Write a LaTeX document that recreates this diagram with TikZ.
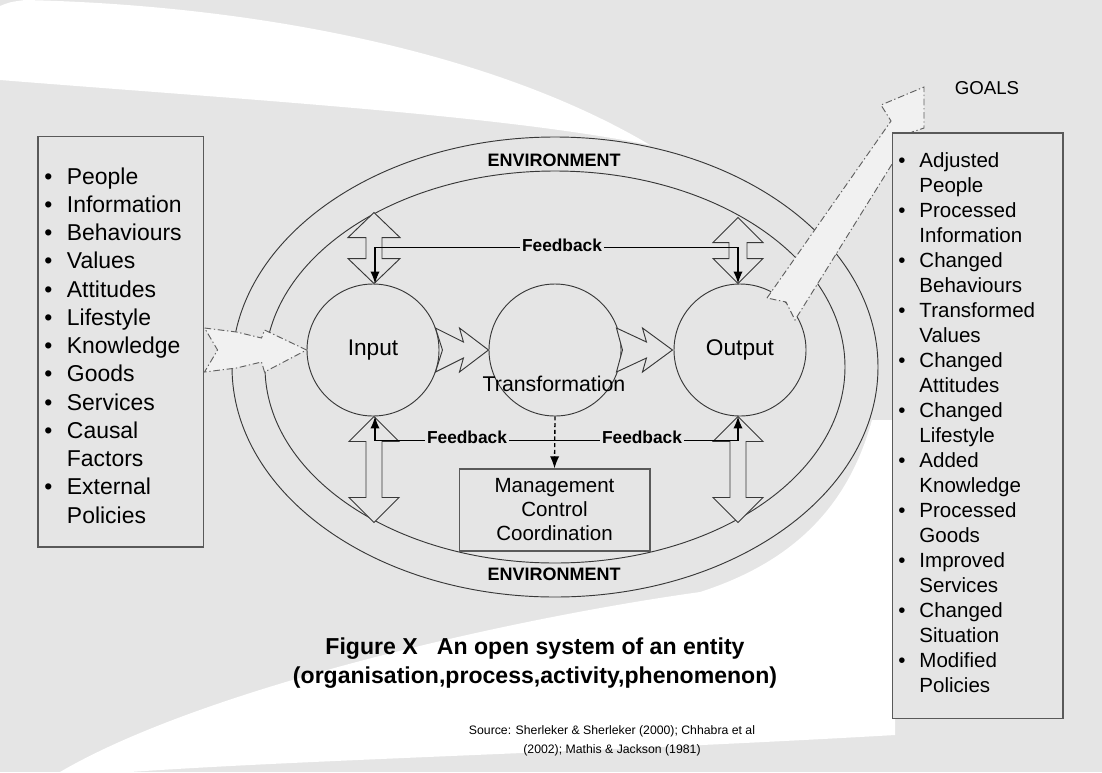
\documentclass[tikz,border=0pt]{standalone}
\usepackage{fontspec}
\setmainfont{Liberation Sans}
\usetikzlibrary{arrows.meta,calc}
\definecolor{bg}{gray}{0.90}
\definecolor{shp}{gray}{0.90}
\definecolor{ln}{gray}{0.22}
\definecolor{bx}{gray}{0.35}
\tikzset{
  >={Latex[length=9pt,width=7pt]},
  circnode/.style={circle,draw=ln,line width=0.7pt,fill=shp,minimum size=99pt,inner sep=0pt},
  listbox/.style={draw=bx,line width=1pt,fill=shp,inner sep=0pt},
  blockarrow/.style={draw=ln,line width=0.7pt,fill=shp,line join=miter},
  dasharrow/.style={draw=ln!80,line width=0.7pt,fill=shp!55!white,dash pattern=on 5pt off 2pt on 1pt off 2pt},
  fbline/.style={draw=black,line width=1pt},
  fblabel/.style={font=\fontsize{13}{15}\selectfont\bfseries,fill=shp,inner sep=1.2pt,anchor=base},
  envlabel/.style={font=\fontsize{13.5}{15}\selectfont\bfseries},
}
\begin{document}
\begin{tikzpicture}[x=0.75pt,y=-0.75pt]
\useasboundingbox (0,0) rectangle (1102,772);
\fill[bg] (0,0) rectangle (1102,772);
% white swooshes of the background
\fill[white] (25,0) .. controls (250,5) and (490,50) .. (650,145)
  .. controls (500,115) and (250,100) .. (0,80) -- (0,6) .. controls (10,2) .. (25,0) -- cycle;
\fill[white] (60,772) .. controls (200,690) and (500,620) .. (700,592)
  .. controls (800,560) and (850,500) .. (872,420) -- (895,420) -- (895,735)
  .. controls (600,752) and (300,760) .. (130,772) -- cycle;

% environment ring
\filldraw[fill=shp,draw=ln,line width=0.7pt] (555,367) ellipse [x radius=323, y radius=230];
\draw[ln,line width=0.7pt] (555,367) ellipse [x radius=290, y radius=196];
\node[envlabel] (envtop) at (554,160) {ENVIRONMENT};
\node[envlabel] (envbot) at (554,574) {ENVIRONMENT};

% circles
\node[circnode] (in) at (373,350) {};
\node[circnode] (tr) at (555,350) {};
\node[circnode] (out) at (740,350) {};
\node[font=\fontsize{17}{20}\selectfont] (intext) at (373,350) {Input};
\node[font=\fontsize{17}{20}\selectfont] (outtext) at (740,350) {Output};
\node[font=\fontsize{16}{19}\selectfont] (trtext) at (554,384) {Transformation};

% chevron arrows between circles
\begin{scope}[shift={(in.east)}]
\draw[blockarrow] (-4,-22) -- (24,-8) -- (20,-22) -- (49,0) -- (20,22) -- (24,8) -- (-4,22) -- (3,0) -- cycle;
\end{scope}
\begin{scope}[shift={(tr.east)}]
\draw[blockarrow] (-5,-22) -- (25,-8) -- (21,-22) -- (51,0) -- (21,22) -- (25,8) -- (-5,22) -- (1,0) -- cycle;
\end{scope}

% vertical double block arrows
\begin{scope}[shift={(in.north)}]
\draw[blockarrow] (1,0) -- (27,-25) -- (9,-25) -- (9,-46) -- (27,-46) -- (1,-71) -- (-25,-46) -- (-7,-46) -- (-7,-25) -- (-25,-25) -- cycle;
\end{scope}
\begin{scope}[shift={(out.north)}]
\draw[blockarrow] (-2,0) -- (23,-25) -- (7,-25) -- (7,-41) -- (23,-41) -- (-2,-66) -- (-27,-41) -- (-11,-41) -- (-11,-25) -- (-27,-25) -- cycle;
\end{scope}
\begin{scope}[shift={(in.south)}]
\draw[blockarrow] (1,0) -- (26,25) -- (9,25) -- (9,81) -- (26,81) -- (1,106) -- (-24,81) -- (-7,81) -- (-7,25) -- (-24,25) -- cycle;
\end{scope}
\begin{scope}[shift={(out.south)}]
\draw[blockarrow] (-2,0) -- (23,25) -- (6,25) -- (6,81) -- (23,81) -- (-2,106) -- (-27,81) -- (-10,81) -- (-10,25) -- (-27,25) -- cycle;
\end{scope}

% management box
\node[listbox,minimum width=143pt,minimum height=61.5pt,align=center,
  font=\fontsize{15.4}{18}\selectfont] (mgmt) at (554.5,510) {Management\\Control\\Coordination};

% feedback connectors
\draw[fbline,<->] ([xshift=1.5pt]in.north) -- ++(0,-36) -| ([xshift=-1.5pt]out.north);
\node[fblabel] (fbtop) at (562,251) {Feedback};
\draw[fbline,<->] ([xshift=1.5pt]in.south) -- ++(0,24) -| ([xshift=-1.5pt]out.south);
\node[fblabel] (fbl) at (467,443) {Feedback};
\node[fblabel] (fbr) at (642,443) {Feedback};
\draw[fbline,dash pattern=on 3pt off 2pt,->] (tr.south) -- (mgmt.north);

% left list box
\node[listbox,minimum width=124pt,minimum height=308pt] (inbox) at (120.5,341.5) {};
\node[anchor=north west,inner sep=0pt,font=\fontsize{17.2}{21.2}\selectfont] (inlist) at (44,164)
{\begin{tabular}{@{}l@{\hspace{11pt}}l@{}}
•&People\\ •&Information\\ •&Behaviours\\ •&Values\\ •&Attitudes\\ •&Lifestyle\\
•&Knowledge\\ •&Goods\\ •&Services\\ •&Causal\\ &Factors\\ •&External\\ &Policies
\end{tabular}};

% dashed input arrow
\begin{scope}[shift={(in.west)}]
\draw[dasharrow] (-102,-22) -- (-70,-18) -- (-45,-12) -- (-42,-20) -- (0,0) -- (-42,22) -- (-45,12) -- (-70,18) -- (-102,22) -- (-89,0) -- cycle;
\end{scope}

% goals arrow
\draw[dasharrow] (767,298) -- (891,121) -- (881,105) -- (924,87) -- (924,128) -- (912,132) -- (795,320) -- (786,302) -- cycle;
\node[font=\fontsize{14}{16}\selectfont] (goals) at (987,88) {GOALS};

% right list box
\node[listbox,minimum width=128pt,minimum height=439pt] (outbox) at (977.5,425.5) {};
\node[anchor=north west,inner sep=0pt,font=\fontsize{15.4}{18.75}\selectfont] (outlist) at (898,149.5)
{\begin{tabular}{@{}l@{\hspace{10.5pt}}l@{}}
•&Adjusted\\ &People\\ •&Processed\\ &Information\\ •&Changed\\ &Behaviours\\
•&Transformed\\ &Values\\ •&Changed\\ &Attitudes\\ •&Changed\\ &Lifestyle\\
•&Added\\ &Knowledge\\ •&Processed\\ &Goods\\ •&Improved\\ &Services\\
•&Changed\\ &Situation\\ •&Modified\\ &Policies
\end{tabular}};

% caption
\node[font=\fontsize{17.3}{21.8}\selectfont\bfseries,align=center] (cap) at (535,663)
  {Figure X\ \ \ An open system of an entity\\(organisation,process,activity,phenomenon)};
\node[font=\fontsize{9.2}{14}\selectfont,align=center] (src) at (612,741)
  {Source: Sherleker \& Sherleker (2000); Chhabra et al\\(2002); Mathis \& Jackson (1981)};
\end{tikzpicture}
\end{document}
